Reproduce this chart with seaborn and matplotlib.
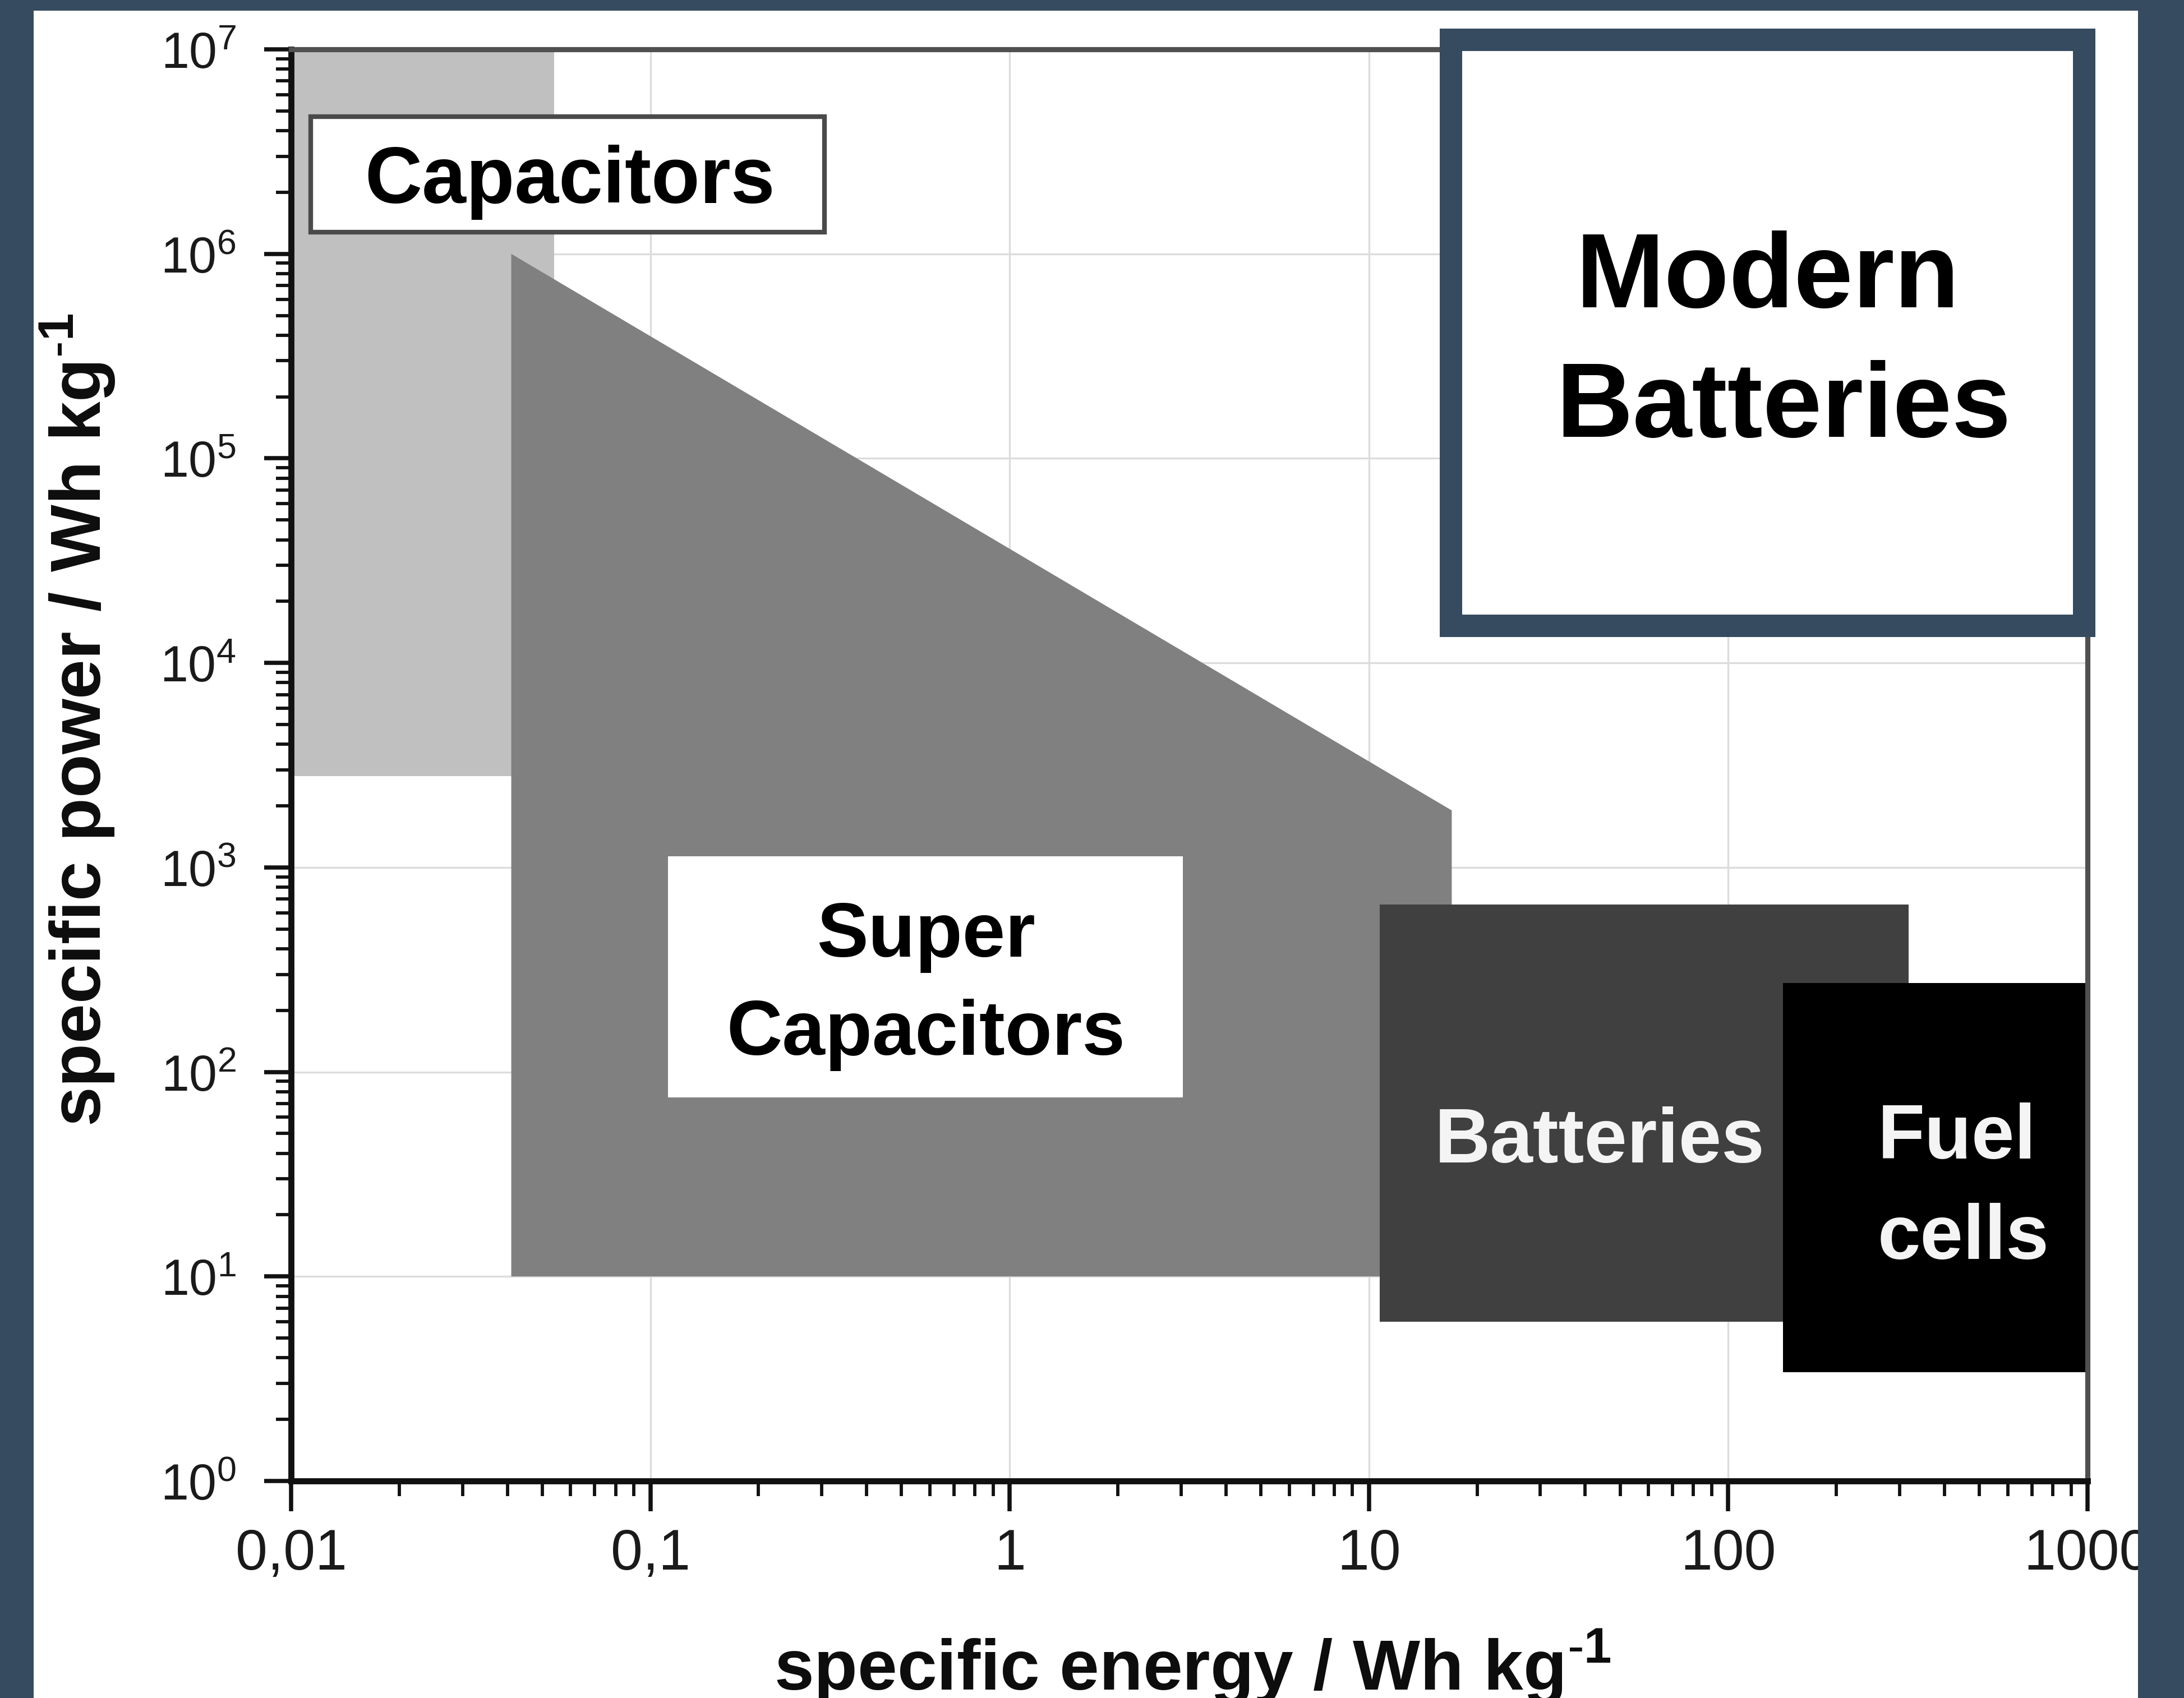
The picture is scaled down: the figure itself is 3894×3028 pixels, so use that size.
import matplotlib
matplotlib.use("Agg")
import matplotlib.pyplot as plt
from matplotlib.patches import Rectangle
from matplotlib.ticker import FixedLocator, FixedFormatter, LogLocator, NullFormatter
import pandas as pd
import seaborn as sns

# Ragone plot regions: specific energy (Wh/kg) vs specific power, polygon vertices
region_names = ["Capacitors", "Super Capacitors", "Batteries", "Fuel cells"]
capacitor_energy = [0.01, 0.054, 0.054, 0.01]
capacitor_power = [2.8e3, 2.8e3, 1e7, 1e7]
supercap_energy = [0.041, 0.041, 17.0, 17.0]
supercap_power = [10.0, 1.0e6, 1.9e3, 10.0]
battery_energy = [10.7, 318.0, 318.0, 10.7]
battery_power = [6.0, 6.0, 660.0, 660.0]
fuelcell_energy = [142.0, 1000.0, 1000.0, 142.0]
fuelcell_power = [3.4, 3.4, 272.0, 272.0]
region_colors = ["#c0c0c0", "#808080", "#404040", "#000000"]

x_ticks = [0.01, 0.1, 1, 10, 100, 1000]
x_tick_labels = ["0,01", "0,1", "1", "10", "100", "1000"]
y_exponents = [0, 1, 2, 3, 4, 5, 6, 7]

frames = []
for name, ex, py in zip(region_names,
                        [capacitor_energy, supercap_energy, battery_energy, fuelcell_energy],
                        [capacitor_power, supercap_power, battery_power, fuelcell_power]):
    frames.append(pd.DataFrame({"region": name, "energy": ex, "power": py}))
regions = pd.concat(frames, ignore_index=True)

sns.set_theme(style="ticks")
plt.rcParams["font.family"] = ["Liberation Sans", "DejaVu Sans"]
plt.rcParams["mathtext.fontset"] = "custom"
plt.rcParams["mathtext.rm"] = "Liberation Sans"
plt.rcParams["mathtext.bf"] = "Liberation Sans:bold"

W, H, DPI = 3894, 3029, 300
SLATE = "#364b5f"

fig = plt.figure(figsize=(W / DPI, H / DPI), dpi=DPI, facecolor=SLATE)

# white card behind the chart
fig.add_artist(Rectangle((60 / W, 0), (3812 - 60) / W, 1 - 20 / H,
                         transform=fig.transFigure, facecolor="white",
                         edgecolor="none", zorder=-10))

ax = fig.add_axes([519 / W, 1 - 2642 / H, (3722 - 519) / W, (2642 - 89) / H])
ax.set_facecolor("white")
ax.set_xscale("log")
ax.set_yscale("log")
ax.set_xlim(0.01, 1000)
ax.set_ylim(1, 1e7)

ax.grid(True, which="major", color="#dcdcdc", linewidth=0.8)
ax.set_axisbelow(True)

for i, (name, grp) in enumerate(regions.groupby("region", sort=False)):
    ax.fill(grp["energy"], grp["power"], color=region_colors[i],
            linewidth=0, zorder=2 + i)

# spines
for side in ["left", "bottom"]:
    ax.spines[side].set_color("#111111")
    ax.spines[side].set_linewidth(2.6)
for side in ["top", "right"]:
    ax.spines[side].set_color("#505050")
    ax.spines[side].set_linewidth(2.2)
for sp in ax.spines.values():
    sp.set_zorder(8)

# ticks
ax.xaxis.set_major_locator(FixedLocator(x_ticks))
ax.xaxis.set_major_formatter(FixedFormatter(x_tick_labels))
ax.yaxis.set_major_locator(FixedLocator([10.0 ** e for e in y_exponents]))
ax.yaxis.set_major_formatter(FixedFormatter(
    [r"$\mathregular{10^{%d}}$" % e for e in y_exponents]))
for axis in (ax.xaxis, ax.yaxis):
    axis.set_minor_locator(LogLocator(base=10, subs=range(2, 10), numticks=20))
    axis.set_minor_formatter(NullFormatter())

ax.tick_params(which="both", direction="out", color="#111111",
               top=False, right=False, bottom=True, left=True)
ax.tick_params(axis="x", which="major", length=13, width=1.8, pad=7,
               labelsize=24.5, labelcolor="#1a1a1a",
               labelfontfamily=["Liberation Sans Narrow", "Liberation Sans"])
ax.tick_params(axis="y", which="major", length=11.5, width=1.8, pad=12,
               labelsize=21.5, labelcolor="#1a1a1a")
ax.tick_params(which="minor", length=6.5, width=1.4)

unit_sup = r"$^{\mathregular{\text{-}1}}$"
ax.set_xlabel("specific energy / Wh kg" + unit_sup, fontsize=30.5,
              fontweight="bold", color="#0d0d0d", va="baseline")
ax.xaxis.set_label_coords(0.5017, -0.1457)
ax.set_ylabel("specific power / Wh kg" + unit_sup, fontsize=30.5,
              fontweight="bold", color="#0d0d0d", va="baseline", ha="center")
ax.yaxis.set_label_coords(-0.1058, 0.532)

# region labels
ax.add_patch(Rectangle((0.0109, 0.8723), 0.2860, 0.0807, transform=ax.transAxes,
                       facecolor="white", edgecolor="#4a4a4a", linewidth=2.0,
                       zorder=9))
ax.text(0.1552, 0.8931, "Capacitors", transform=ax.transAxes, ha="center",
        va="baseline", fontsize=34, fontweight="bold", color="black", zorder=10)

ax.add_patch(Rectangle((0.2098, 0.2679), 0.2866, 0.1685, transform=ax.transAxes,
                       facecolor="white", edgecolor="none", zorder=9))
for line, yb in zip(["Super", "Capacitors"], [0.3666, 0.2981]):
    ax.text(0.3534, yb, line, transform=ax.transAxes, ha="center",
            va="baseline", fontsize=33, fontweight="bold", color="black",
            zorder=10)

ax.text(0.7284, 0.2229, "Batteries", transform=ax.transAxes, ha="center",
        va="baseline", fontsize=33, fontweight="bold", color="#f4f4f4",
        zorder=10)
for line, yb in zip(["Fuel", "cells"], [0.2256, 0.1555]):
    ax.text(0.8832, yb, line, transform=ax.transAxes, ha="left",
            va="baseline", fontsize=33, fontweight="bold", color="#f4f4f4",
            zorder=10)

# dark margin on the right, above everything
fig.add_artist(Rectangle((3812 / W, 0), 1 - 3812 / W, 1,
                         transform=fig.transFigure, facecolor=SLATE,
                         edgecolor="none", zorder=20))

# "Modern Batteries" callout box
fig.add_artist(Rectangle((2587 / W, 1 - 1117 / H), (3716 - 2587) / W,
                         (1117 - 72) / H, transform=fig.transFigure,
                         facecolor="white", edgecolor=SLATE, linewidth=9.6,
                         joinstyle="miter", zorder=21))
for line, xc, yb in zip(["Modern", "Batteries"], [3152, 3180], [548, 779]):
    fig.text(xc / W, 1 - yb / H, line, ha="center", va="baseline",
             fontsize=45.5, fontweight="bold", color="black", zorder=22)

fig.savefig("out.png", dpi=DPI, facecolor=SLATE)
